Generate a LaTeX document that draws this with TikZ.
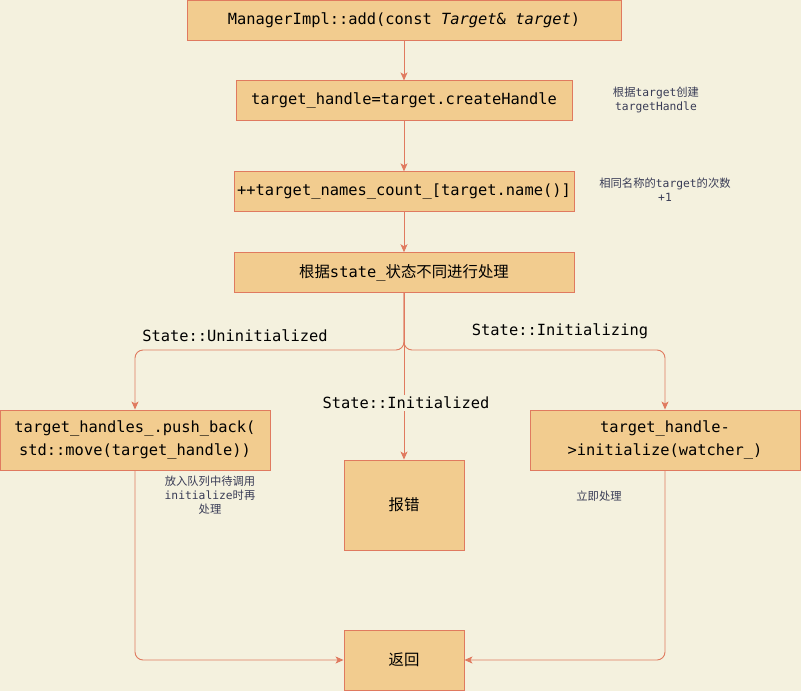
\documentclass[tikz,border=0pt]{standalone}
\usepackage{fontspec}
\setmonofont{DejaVu Sans Mono}
\newfontfamily\cjk{Noto Sans CJK SC}
\usetikzlibrary{arrows.meta,positioning}
\definecolor{cBg}{HTML}{F4F1DE}
\definecolor{cFill}{HTML}{F2CC8F}
\definecolor{cLine}{HTML}{E07A5F}
\definecolor{cNote}{HTML}{393C56}
\newcommand{\zh}[1]{{\cjk #1}}

\begin{document}
\begin{tikzpicture}[
  x=1pt, y=-1pt,
  font=\ttfamily\fontsize{15.4}{23}\selectfont,
  stepbox/.style={rectangle, draw=cLine, line width=0.9pt, fill=cFill,
    align=center, inner sep=3pt, minimum height=40pt},
  note/.style={font=\ttfamily\fontsize{11.3}{14}\selectfont, text=cNote, align=center},
  branch/.style={inner sep=2pt},
  flow/.style={-{Stealth[length=8pt, width=7pt, inset=2pt]}, line width=0.9pt,
    draw=cLine, rounded corners=8pt},
]
\useasboundingbox[fill=cBg] (0,0) rectangle (801,691);
\node[stepbox, minimum width=434pt] (add) at (404,20)
  {ManagerImpl::add(const \textit{Target}\& \textit{target})};
\node[stepbox, minimum width=336pt, below=40pt of add] (mkhandle)
  {target\_handle=target.createHandle};
\node[stepbox, minimum width=340pt, below=50pt of mkhandle] (count)
  {++target\_names\_count\_[target.name()]};
\node[stepbox, minimum width=340pt, below=40pt of count] (dispatch)
  {\zh{根据}state\_\zh{状态不同进行处理}};
\node[stepbox, minimum width=270pt, minimum height=60pt] (pushq) at (135,440)
  {target\_handles\_.push\_back(\\std::move(target\_handle))};
\node[stepbox, minimum width=270pt, minimum height=60pt] (initnow) at (665,440)
  {target\_handle-\\>initialize(watcher\_)};
\node[stepbox, minimum width=120pt, minimum height=90pt] (errbox) at (404,505)
  {\zh{报错}};
\node[stepbox, minimum width=120pt, minimum height=60pt] (ret) at (404,660)
  {\zh{返回}};
\coordinate (fork) at (404,350);

\draw[flow] (add) -- (mkhandle);
\draw[flow] (mkhandle) -- (count);
\draw[flow] (count) -- (dispatch);
\draw[flow] (dispatch.south) -- (fork) -| (pushq.north);
\draw[flow] (dispatch.south) -- (fork) -| (initnow.north);
\draw[flow] (dispatch.south) -- (errbox.north);
\draw[flow] (pushq.south) |- (ret.west);
\draw[flow] (initnow.south) |- (ret.east);

% branch labels
\node[branch] (lblUninit) at (235,336) {State::Uninitialized};
\node[branch] (lblIniting) at (560,331) {State::Initializing};
\node[branch, fill=cBg] (lblInited) at (406,403) {State::Initialized};

% side notes
\node[note] (nHandle) at (656,100) {\zh{根据}target\zh{创建}\\targetHandle};
\node[note] (nCount) at (665,190) {\zh{相同名称的}target\zh{的次数}\\+1};
\node[note] (nQueue) at (210,495) {\zh{放入队列中待调用}\\initialize\zh{时再}\\\zh{处理}};
\node[note] (nNow) at (599,496) {\zh{立即处理}};
\end{tikzpicture}
\end{document}
